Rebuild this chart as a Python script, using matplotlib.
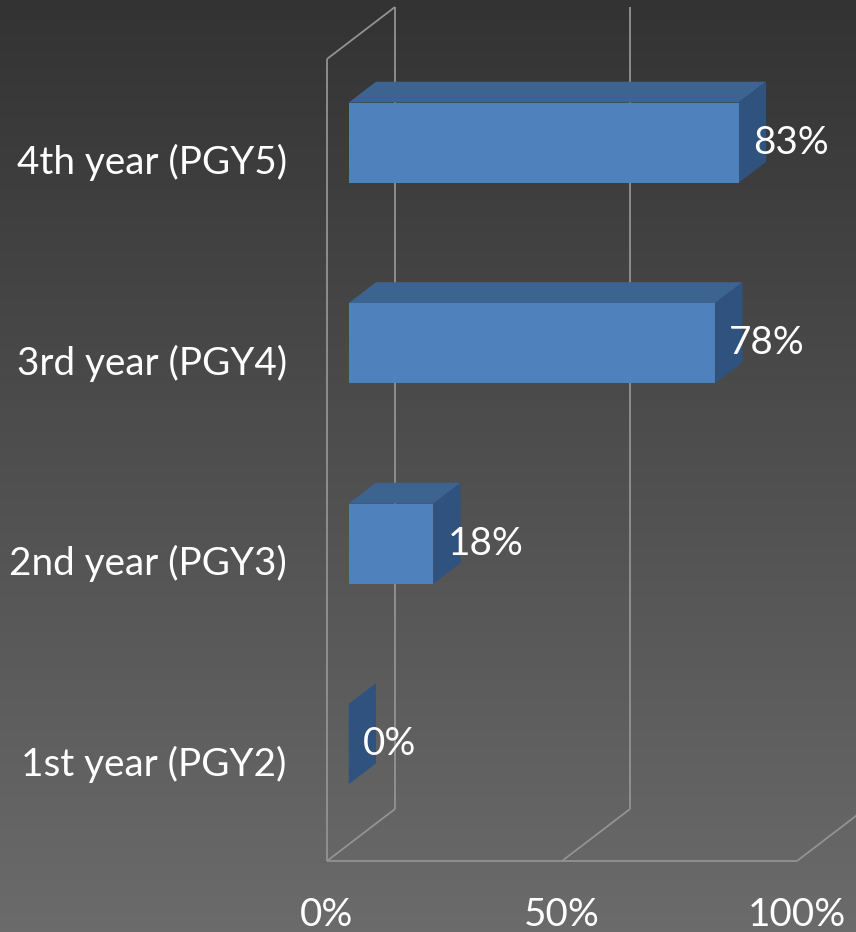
import numpy as np
import matplotlib
matplotlib.use("Agg")
import matplotlib.pyplot as plt
from matplotlib.patches import Polygon

plt.rcParams['font.family'] = ['Lato', 'DejaVu Sans']

# survey results per training year
categories = ['1st year (PGY2)', '2nd year (PGY3)', '3rd year (PGY4)', '4th year (PGY5)']
values = [0.00, 0.18, 0.78, 0.83]
value_labels = ['0%', '18%', '78%', '83%']
x_ticks = [0.0, 0.5, 1.0]
x_tick_labels = ['0%', '50%', '100%']

FRONT = '#4F81BD'
TOP = '#3D6390'
SIDE = '#30527E'
GRID = '#939393'
TEXT = 'white'
FS = 27.8

W, H = 856, 932
fig = plt.figure(figsize=(W / 100, H / 100), dpi=100)

# gradient backdrop
bg = fig.add_axes([0, 0, 1, 1])
grad = np.linspace(0x33, 0x6B, 256)[:, None] / 255.0
bg.imshow(np.dstack([grad, grad, grad]), aspect='auto', extent=[0, 1, 0, 1], origin='upper')
bg.set_axis_off()

# plot box: value 0..1 across, categories 0..4 up
ax = fig.add_axes([327 / W, 71 / H, 470 / W, 802 / H])
ax.set_xlim(0, 1)
ax.set_ylim(0, 4)
ax.patch.set_visible(False)
for s in ax.spines.values():
    s.set_visible(False)

# oblique depth offset (depth 0 = front, 1 = back wall)
DX = 68 / 470
DY = 52 / 200.5


def proj(v, c, d):
    return v + d * DX, c + d * DY


def line3(p0, p1):
    a = proj(*p0)
    b = proj(*p1)
    ax.plot([a[0], b[0]], [a[1], b[1]], color=GRID, lw=1.3, clip_on=False, zorder=1,
            solid_capstyle='butt')


# walls and gridlines
n = len(categories)
line3((0, 0, 0), (1, 0, 0))
line3((0, 0, 0), (0, n, 0))
line3((0, n, 0), (0, n, 1))
for t in x_ticks:
    line3((t, 0, 0), (t, 0, 1))
    line3((t, 0, 1), (t, n, 1))

# 3d bars
d0, d1 = 0.32, 0.72
for i, v in enumerate(values):
    c0, c1 = i + 0.3, i + 0.7
    top = [proj(0, c1, d0), proj(v, c1, d0), proj(v, c1, d1), proj(0, c1, d1)]
    side = [proj(v, c0, d0), proj(v, c0, d1), proj(v, c1, d1), proj(v, c1, d0)]
    front = [proj(0, c0, d0), proj(v, c0, d0), proj(v, c1, d0), proj(0, c1, d0)]
    ax.add_patch(Polygon(top, closed=True, fc=TOP, ec='none', clip_on=False, zorder=3))
    ax.add_patch(Polygon(side, closed=True, fc=SIDE, ec='none', clip_on=False, zorder=3))
    ax.add_patch(Polygon(front, closed=True, fc=FRONT, ec='none', clip_on=False, zorder=4))
    lx, ly = proj(v, i + 0.5, d0)
    ax.text(lx + 14 / 470, ly, value_labels[i], color=TEXT, fontsize=FS,
            ha='left', va='center', zorder=5, clip_on=False)

ax.set_yticks([i + 0.5 for i in range(n)])
ax.set_yticklabels(categories)
ax.set_xticks(x_ticks)
ax.set_xticklabels(x_tick_labels)
ax.tick_params(axis='both', length=0, colors=TEXT, labelsize=FS)
ax.tick_params(axis='y', pad=29)
ax.tick_params(axis='x', pad=26)

fig.savefig('out.png', dpi=100)
